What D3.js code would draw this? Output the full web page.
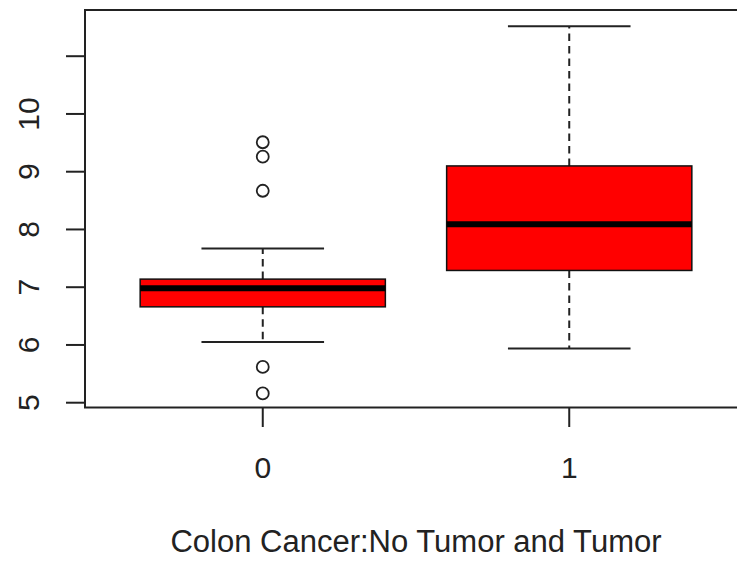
<!DOCTYPE html>
<html><head><meta charset="utf-8">
<script src="https://cdn.jsdelivr.net/npm/d3@7"></script>
<style>body{margin:0;background:#fff}svg{display:block}text{font-family:"Liberation Sans",Arial,sans-serif;fill:#222}</style>
</head><body><svg id="c" width="737" height="563"></svg>
<script>
const categories = ["0", "1"];
const q1 = [6.66, 7.29];
const median = [6.98, 8.09];
const q3 = [7.14, 9.10];
const whiskerLow = [6.05, 5.94];
const whiskerHigh = [7.67, 11.52];
const outliers = [[9.51, 9.26, 8.67, 5.62, 5.16], []];
const yTicks = [5, 6, 7, 8, 9, 10, 11];
const yTickLabels = ["5", "6", "7", "8", "9", "10", ""];
const xLabel = "Colon Cancer:No Tumor and Tumor";

const svg = d3.select("#c");
const x = d3.scaleLinear().domain([0.42, 2.58]).range([85, 747]);
const y = d3.scaleLinear().domain([4.917, 11.80]).range([407.5, 10]);
const ink = "#222";
const boxHalf = 0.4, capHalf = 0.2;

const data = categories.map((c, i) => ({c, i: i + 1, q1: q1[i], med: median[i], q3: q3[i], lo: whiskerLow[i], hi: whiskerHigh[i], out: outliers[i]}));

const g = svg.append("g");
data.forEach(d => {
  g.append("line").attr("x1", x(d.i)).attr("x2", x(d.i)).attr("y1", y(d.q3)).attr("y2", y(d.hi))
    .attr("stroke", ink).attr("stroke-width", 2).attr("stroke-dasharray", "7.5,5");
  g.append("line").attr("x1", x(d.i)).attr("x2", x(d.i)).attr("y1", y(d.q1)).attr("y2", y(d.lo))
    .attr("stroke", ink).attr("stroke-width", 2).attr("stroke-dasharray", "7.5,5");
  [d.lo, d.hi].forEach(v => g.append("line").attr("x1", x(d.i - capHalf)).attr("x2", x(d.i + capHalf))
    .attr("y1", y(v)).attr("y2", y(v)).attr("stroke", ink).attr("stroke-width", 2));
  g.append("rect").attr("x", x(d.i - boxHalf)).attr("width", x(d.i + boxHalf) - x(d.i - boxHalf))
    .attr("y", y(d.q3)).attr("height", y(d.q1) - y(d.q3))
    .attr("fill", "#ff0000").attr("stroke", "#111").attr("stroke-width", 1.5);
  g.append("line").attr("x1", x(d.i - boxHalf)).attr("x2", x(d.i + boxHalf)).attr("y1", y(d.med)).attr("y2", y(d.med))
    .attr("stroke", "#000").attr("stroke-width", 6);
  d.out.forEach(v => g.append("circle").attr("cx", x(d.i)).attr("cy", y(v)).attr("r", 6)
    .attr("fill", "none").attr("stroke", ink).attr("stroke-width", 1.8));
});

svg.append("rect").attr("x", x.range()[0]).attr("y", y.range()[1])
  .attr("width", x.range()[1] - x.range()[0]).attr("height", y.range()[0] - y.range()[1])
  .attr("fill", "none").attr("stroke", ink).attr("stroke-width", 2);

const yAxis = svg.append("g");
yTicks.forEach((t, i) => {
  yAxis.append("line").attr("x1", 66).attr("x2", x.range()[0]).attr("y1", y(t)).attr("y2", y(t))
    .attr("stroke", ink).attr("stroke-width", 2);
  if (yTickLabels[i]) yAxis.append("text").attr("transform", `translate(39,${y(t)}) rotate(-90)`)
    .attr("text-anchor", "middle").attr("font-size", 30).text(yTickLabels[i]);
});

const xAxis = svg.append("g");
data.forEach(d => {
  xAxis.append("line").attr("x1", x(d.i)).attr("x2", x(d.i)).attr("y1", y.range()[0]).attr("y2", 427)
    .attr("stroke", ink).attr("stroke-width", 2);
  xAxis.append("text").attr("x", x(d.i)).attr("y", 478).attr("text-anchor", "middle").attr("font-size", 30).text(d.c);
});

svg.append("text").attr("x", (x.range()[0] + x.range()[1]) / 2).attr("y", 552)
  .attr("text-anchor", "middle").attr("font-size", 31).text(xLabel);
</script></body></html>
